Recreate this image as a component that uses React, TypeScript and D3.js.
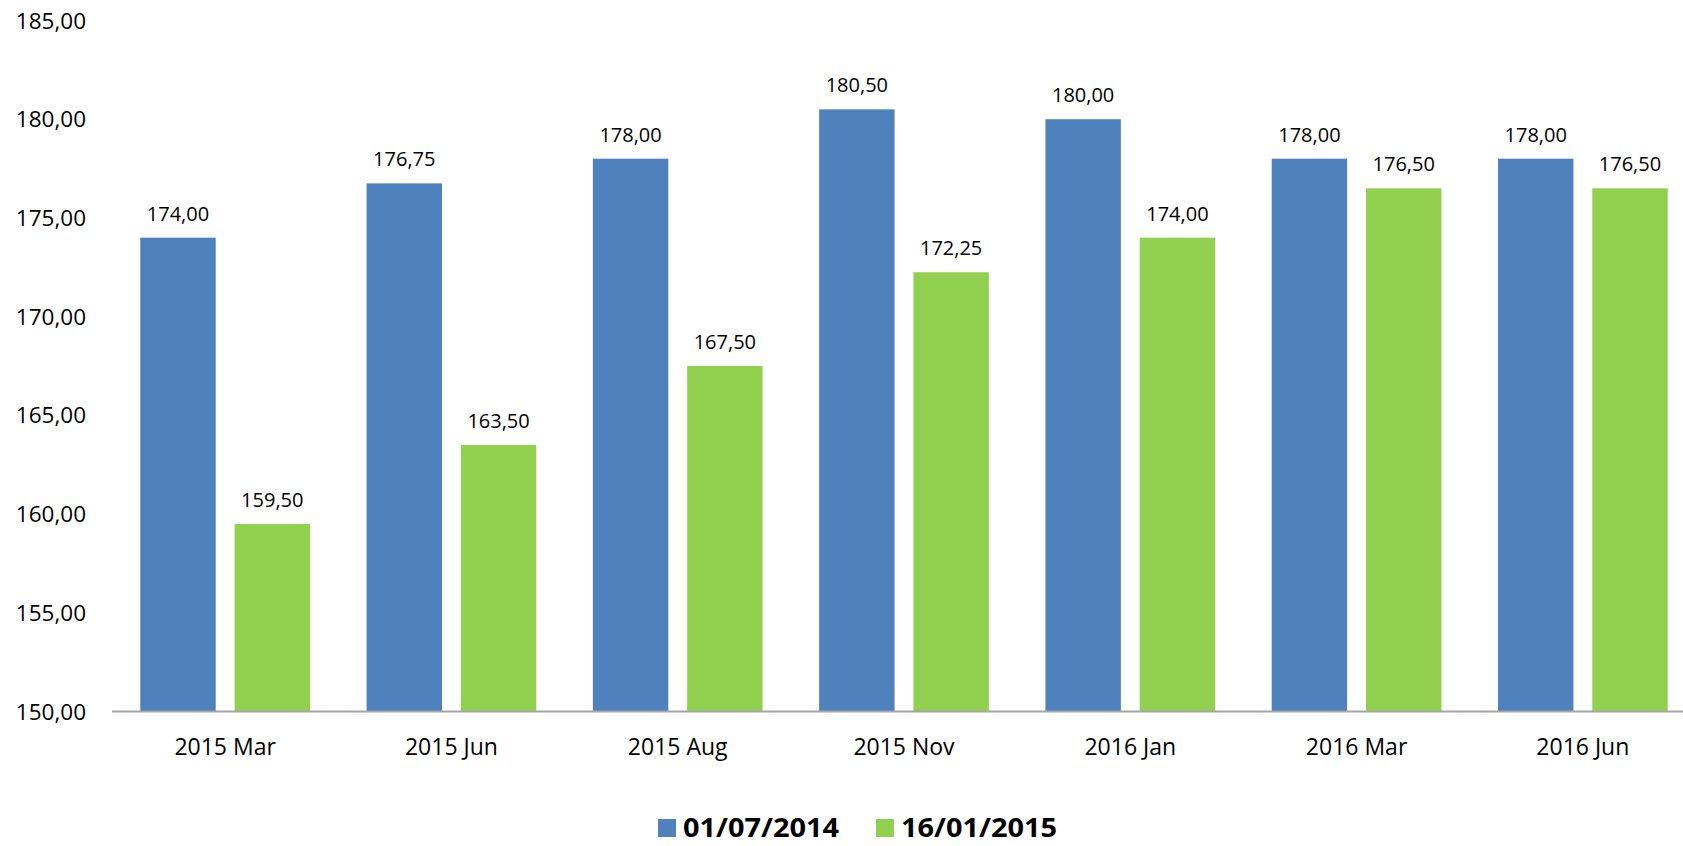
import React from "react";
import * as d3 from "d3";

const categories = ["2015 Mar", "2015 Jun", "2015 Aug", "2015 Nov", "2016 Jan", "2016 Mar", "2016 Jun"];
const seriesNames = ["01/07/2014", "16/01/2015"];
const seriesA = [174.0, 176.75, 178.0, 180.5, 180.0, 178.0, 178.0];
const seriesB = [159.5, 163.5, 167.5, 172.25, 174.0, 176.5, 176.5];
const yTicks = [150, 155, 160, 165, 170, 175, 180, 185];
const colors = ["#4F81BD", "#92D050"];

const W = 1683;
const H = 846;
const FONT = "'Open Sans', 'Noto Sans', sans-serif";

const locale = d3.formatLocale({ decimal: ",", thousands: ".", grouping: [3], currency: ["", "€"] });
const fmt = locale.format(".2f");

export default function App() {
  const left = 112;
  const right = 1696;
  const top = 20.5;
  const bottom = 711.5;

  const x0 = d3.scaleBand<string>().domain(categories).range([left, right]).padding(0);
  const x1 = d3
    .scaleBand<string>()
    .domain(seriesNames)
    .range([0, x0.bandwidth()])
    .paddingInner(0.2)
    .paddingOuter(0.3);
  const y = d3.scaleLinear().domain([150, 185]).range([bottom, top]);

  const series = [seriesA, seriesB];

  return (
    <svg
      width={W}
      height={H}
      style={{ position: "absolute", left: 0, top: 0, background: "#fff" }}
      fontFamily={FONT}
    >
      {yTicks.map((t) => (
        <text key={t} x={86} y={y(t)} dy="0.36em" textAnchor="end" fontSize={22.5} fill="#000">
          {fmt(t)}
        </text>
      ))}
      {categories.map((c, i) => (
        <g key={c}>
          {series.map((s, si) => {
            const xx = (x0(c) as number) + (x1(seriesNames[si]) as number);
            const yy = y(s[i]);
            return (
              <g key={si}>
                <rect x={xx} y={yy} width={x1.bandwidth()} height={bottom - yy} fill={colors[si]} />
                <text
                  x={xx + x1.bandwidth() / 2}
                  y={yy - 17}
                  textAnchor="middle"
                  fontSize={20}
                  fill="#000"
                >
                  {fmt(s[i])}
                </text>
              </g>
            );
          })}
          <text
            x={(x0(c) as number) + x0.bandwidth() / 2}
            y={755}
            textAnchor="middle"
            fontSize={23}
            fill="#000"
          >
            {c}
          </text>
        </g>
      ))}
      <line x1={left} x2={right} y1={bottom} y2={bottom} stroke="#A6A6A6" strokeWidth={2} />
      {seriesNames.map((n, i) => {
        const lx = i === 0 ? 658 : 876;
        return (
          <g key={n}>
            <rect x={lx} y={819} width={18} height={18} fill={colors[i]} />
            <text x={lx + 25} y={837} fontSize={27} fontWeight="bold" fill="#000" textLength={156} lengthAdjust="spacingAndGlyphs">
              {n}
            </text>
          </g>
        );
      })}
    </svg>
  );
}
